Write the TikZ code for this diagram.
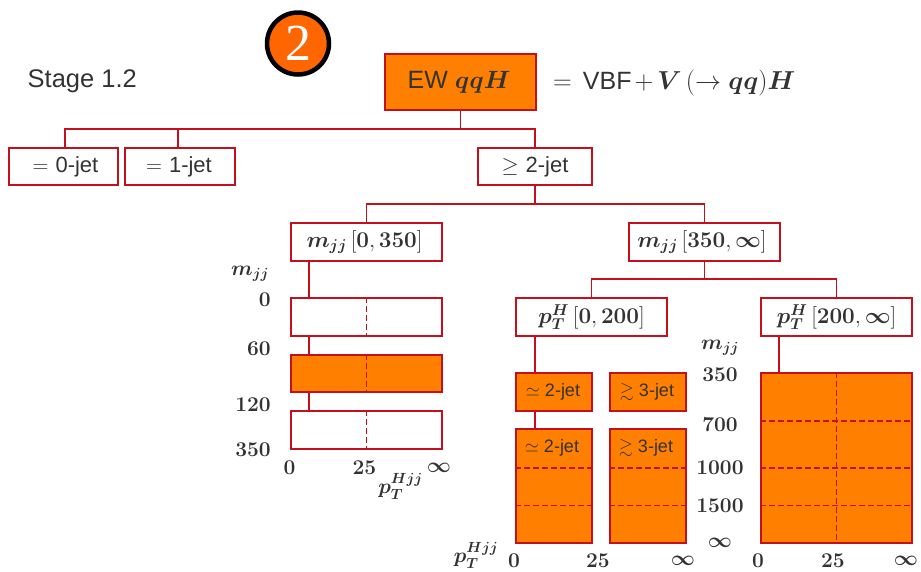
\documentclass[tikz,border=0pt]{standalone}
\usepackage{fix-cm}
\usepackage{amsmath,amssymb,bm}
\usepackage[no-math]{fontspec}
\setsansfont{Liberation Sans}
\newfontfamily\badgefont{Liberation Serif}
\usetikzlibrary{calc}
\definecolor{hxred}{HTML}{C4101C}
\definecolor{hxorange}{HTML}{FF8000}
\definecolor{hxbadge}{HTML}{FF6600}
\definecolor{hxtext}{HTML}{333333}
\newcommand{\fsz}[1]{\fontsize{#1}{#1}\selectfont}
\newcommand{\bmm}{\bm{m_{jj}}}
\newcommand{\bpt}{\bm{p_T^{Hjj}}}
\newcommand{\lowr}[2]{\raisebox{-#1pt}{#2}}
\tikzset{
  boxbase/.style={draw=hxred,line width=1.6pt,inner sep=0pt,text=hxtext,anchor=center},
  plainbox/.style={boxbase,fill=white,font=\sffamily\fsz{22}},
  fillbox/.style={boxbase,fill=hxorange,font=\sffamily\fsz{18}},
  conn/.style={draw=hxred,line width=1.3pt},
  dashline/.style={draw=hxred,line width=1.5pt,dash pattern=on 5.5pt off 3.5pt},
  dashbar/.style={draw=hxred,line width=1.7pt,dash pattern=on 5.5pt off 3.5pt},
  dashthick/.style={draw=hxred,line width=1.9pt,dash pattern=on 5.5pt off 3.5pt},
  numlab/.style={text=hxtext,font=\fsz{21},inner sep=0pt,yshift=-0.7pt},
}
\begin{document}
\begin{tikzpicture}[x=1pt,y=-1pt]
\useasboundingbox (0,0) rectangle (921,571);
% badge
\node[circle,draw=black,line width=4.5pt,fill=hxbadge,minimum size=62pt,inner sep=0pt,text=white,font=\badgefont\fsz{52}] (badge) at (298,43.5) {2};
\node[anchor=west,inner sep=0pt,text=hxtext,font=\sffamily\fsz{25.5}] (stage) at (27.5,81) {Stage 1.2};
% top
\node[boxbase,fill=hxorange,font=\sffamily\fsz{25},minimum width=151pt,minimum height=56pt,line width=2pt] (ew) at (460.5,82) {\lowr{2}{EW $\bm{qqH}$\hspace{3pt}}};
\node[anchor=west,inner sep=0pt,text=hxtext,font=\sffamily\fsz{25}] (eq) at (553,83) {\fsz{26}$=$\hspace{11pt}\fsz{25}VBF\hspace{3pt}\fsz{26}$+$\hspace{4pt}$\bm{V}\,(\to\bm{qq})\bm{H}$};
% level 2
\node[plainbox,minimum width=109pt,minimum height=37pt] (zero) at (63.5,166.5) {\lowr{2}{\hspace{4pt}$=$\hspace{7pt}0-jet}};
\node[plainbox,minimum width=110pt,minimum height=37pt] (one) at (180,166.5) {\lowr{2}{$=$\hspace{7pt}1-jet\hspace{2pt}}};
\node[plainbox,minimum width=114pt,minimum height=37pt] (two) at (535,166.5) {\lowr{2}{$\geq$\hspace{7pt}2-jet}};
% level 3
\node[plainbox,font=\sffamily\fsz{22.5},minimum width=151pt,minimum height=38pt] (mlow) at (366.5,242) {\lowr{1}{$\bmm\,[\mathbf{0,350}]$\hspace{4pt}}};
\node[plainbox,font=\sffamily\fsz{22.5},minimum width=151pt,minimum height=38pt] (mhigh) at (704.5,242) {\lowr{1}{$\bmm\,[\mathbf{350},\bm{\infty}]$\hspace{5pt}}};
% level 4
\node[plainbox,font=\sffamily\fsz{22.5},minimum width=151pt,minimum height=38pt] (ptlow) at (591.5,317) {$\bm{p_T^H}\,[\mathbf{0,200}]$\hspace{5pt}};
\node[plainbox,font=\sffamily\fsz{22.5},minimum width=151pt,minimum height=38pt] (pthigh) at (836.5,317) {$\bm{p_T^H}\,[\mathbf{200},\bm{\infty}]$\hspace{10pt}};
% left bars
\node[plainbox,minimum width=151pt,minimum height=38pt] (bara) at (366.5,317) {};
\node[boxbase,fill=hxorange,line width=2pt,minimum width=151pt,minimum height=37pt] (barb) at (366.5,373.5) {};
\node[plainbox,minimum width=151pt,minimum height=38pt] (barc) at (366.5,430) {};
\draw[dashbar] (bara.north) -- (bara.south);
\draw[dashbar] (barb.north) -- (barb.south);
\draw[dashbar] (barc.north) -- (barc.south);
% middle boxes
\node[fillbox,minimum width=76pt,minimum height=38pt] (sa) at (554,392) {\lowr{1}{$\simeq$ 2-jet\hspace{2pt}}};
\node[fillbox,minimum width=76pt,minimum height=38pt] (ga) at (648,392) {\lowr{1}{$\gtrsim$ 3-jet\hspace{2pt}}};
\node[boxbase,fill=hxorange,minimum width=76pt,minimum height=114pt] (sb) at (554,486) {};
\node[boxbase,fill=hxorange,minimum width=76pt,minimum height=114pt] (gb) at (648,486) {};
\node[text=hxtext,font=\sffamily\fsz{18},inner sep=0pt] (sbt) at (552,448) {$\simeq$ 2-jet};
\node[text=hxtext,font=\sffamily\fsz{18},inner sep=0pt] (gbt) at (646,448) {$\gtrsim$ 3-jet};
\draw[dashthick] (sb.west |- 0,468) -- (sb.east |- 0,468);
\draw[dashline] (sb.west |- 0,505.5) -- (sb.east |- 0,505.5);
\draw[dashthick] (gb.west |- 0,468) -- (gb.east |- 0,468);
\draw[dashline] (gb.west |- 0,505.5) -- (gb.east |- 0,505.5);
% right big
\node[boxbase,fill=hxorange,minimum width=151pt,minimum height=170pt] (big) at (836.5,458) {};
\draw[dashline] (big.north) -- (big.south);
\draw[dashline] (big.west |- 0,421) -- (big.east |- 0,421);
\draw[dashthick] (big.west |- 0,468) -- (big.east |- 0,468);
\draw[dashline] (big.west |- 0,505.5) -- (big.east |- 0,505.5);
% connectors
\coordinate (bustop) at (0,129);
\draw[conn] (ew.south) -- (ew.south |- bustop);
\draw[conn] ([xshift=1.5pt]zero.north) |- (two.north |- bustop) -- (two.north);
\draw[conn] ([xshift=-2pt]one.north) -- ([xshift=-2pt]one.north |- bustop);
\coordinate (busmid) at (0,204);
\draw[conn] (two.south) -- (two.south |- busmid);
\draw[conn] (mlow.north) |- (mhigh.north |- busmid) -- (mhigh.north);
\coordinate (buslow) at (0,279);
\draw[conn] (mhigh.south) -- (mhigh.south |- buslow);
\draw[conn] (ptlow.north) |- (pthigh.north |- buslow) -- (pthigh.north);
\draw[conn] ([xshift=-57.5pt]mlow.south) -- ([xshift=-57.5pt]bara.north);
\draw[conn] ([xshift=-57.5pt]bara.south) -- ([xshift=-57.5pt]barb.north);
\draw[conn] ([xshift=-57.5pt]barb.south) -- ([xshift=-57.5pt]barc.north);
\draw[conn] ([xshift=-56.5pt]ptlow.south) -- ([xshift=-19pt]sa.north);
\draw[conn] ([xshift=-19pt]sa.south) -- ([xshift=-19pt]sb.north);
\draw[conn] ([xshift=-57.5pt]pthigh.south) -- ([xshift=-57.5pt]big.north);
% left axis labels
\node[numlab] (lmjj) at (250,273) {$\bmm$};
\node[numlab,anchor=east] (l0) at (271,299) {$\mathbf{0}$};
\node[numlab,anchor=east] (l60) at (271,348) {$\mathbf{60}$};
\node[numlab,anchor=east] (l120) at (271,404) {$\mathbf{120}$};
\node[numlab,anchor=east] (l350) at (271,449) {$\mathbf{350}$};
\node[numlab] (x0) at (289.5,467) {$\mathbf{0}$};
\node[numlab] (x25) at (364.5,467) {$\mathbf{25}$};
\node[numlab] (xinf) at (439,467) {$\bm{\infty}$};
\node[numlab] (xpt) at (400.5,486) {$\bpt$};
% middle axis labels
\node[numlab] (mpt) at (476,555) {$\bpt$};
\node[numlab] (m0) at (514,560.5) {$\mathbf{0}$};
\node[numlab] (m25) at (598,560.5) {$\mathbf{25}$};
\node[numlab] (minf) at (683,560.5) {$\bm{\infty}$};
% right labels
\node[numlab] (rmjj) at (720,347) {$\bmm$};
\node[numlab] (r350) at (720,374) {$\mathbf{350}$};
\node[numlab] (r700) at (720,424) {$\mathbf{700}$};
\node[numlab] (r1000) at (720,467) {$\mathbf{1000}$};
\node[numlab] (r1500) at (720,505) {$\mathbf{1500}$};
\node[numlab] (rinf) at (720,542) {$\bm{\infty}$};
\node[numlab] (b0) at (758,560.5) {$\mathbf{0}$};
\node[numlab] (b25) at (833,560.5) {$\mathbf{25}$};
\node[numlab] (binf) at (906,560.5) {$\bm{\infty}$};
\end{tikzpicture}
\end{document}
